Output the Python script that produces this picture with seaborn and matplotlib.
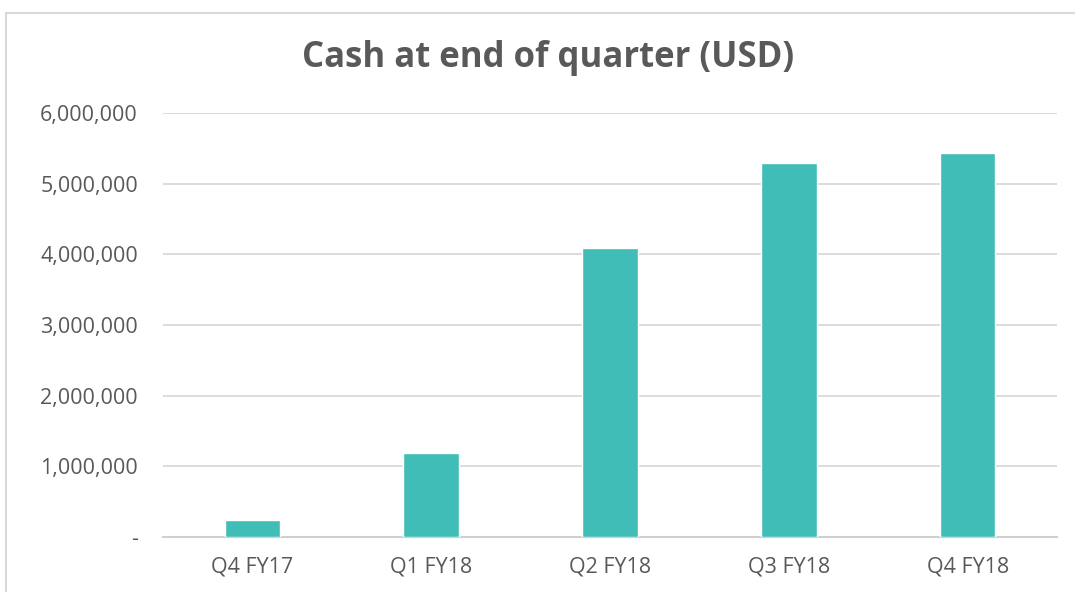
import matplotlib
matplotlib.use("Agg")
import matplotlib.pyplot as plt
import seaborn as sns
import pandas as pd
from matplotlib.ticker import FuncFormatter
from matplotlib.patches import Rectangle

quarters = ["Q4 FY17", "Q1 FY18", "Q2 FY18", "Q3 FY18", "Q4 FY18"]
cash = [240000, 1195000, 4085000, 5300000, 5440000]
yticks = [0, 1000000, 2000000, 3000000, 4000000, 5000000, 6000000]

df = pd.DataFrame({"quarter": quarters, "cash": cash})

sns.set_theme(style="white")
plt.rcParams["font.family"] = ["Open Sans", "DejaVu Sans"]

fig = plt.figure(figsize=(10.75, 5.92), dpi=100)
ax = fig.add_axes([0.1516, 0.0929, 0.8317, 0.7161])

sns.barplot(data=df, x="quarter", y="cash", color="#41BDB8", width=0.31,
            saturation=1, ax=ax, zorder=3)

ax.set_ylim(0, 6000000)
ax.set_yticks(yticks)
ax.yaxis.set_major_formatter(FuncFormatter(lambda v, p: "-" if v == 0 else f"{int(v):,}"))
ax.grid(axis="y", color="#d9d9d9", linewidth=1.3, zorder=0)
ax.set_axisbelow(True)
for s in ["top", "right", "left"]:
    ax.spines[s].set_visible(False)
ax.spines["bottom"].set_color("#d0d0d0")
ax.spines["bottom"].set_linewidth(1.5)
ax.tick_params(axis="both", length=0, labelsize=15.5, labelcolor="#595959")
ax.tick_params(axis="y", pad=18)
ax.tick_params(axis="x", pad=14)
ax.set_xlabel("")
ax.set_ylabel("")

fig.text(0.51, 0.902, "Cash at end of quarter (USD)", ha="center", va="center",
         fontsize=25, fontweight="bold", color="#595959")

fig.patches.append(Rectangle((6/1075, -0.1), 1.2, (592-13)/592 + 0.1,
                             transform=fig.transFigure, fill=False,
                             edgecolor="#d9d9d9", linewidth=1.5))

fig.savefig("out.png", dpi=100)
